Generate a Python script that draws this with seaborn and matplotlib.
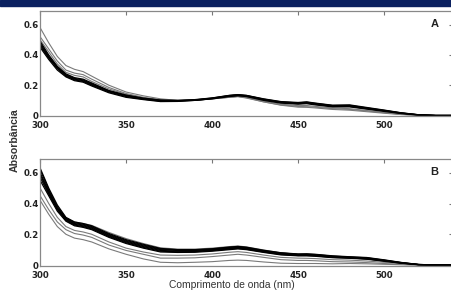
import matplotlib
matplotlib.use("Agg")
import matplotlib.pyplot as plt
import seaborn as sns

wl = [300, 305, 310, 315, 320, 325, 330, 340, 350, 360, 370, 380, 390, 400, 410,
      415, 420, 430, 440, 450, 455, 460, 470, 480, 490, 500, 510, 520, 530, 540]

# Panel A spectra
a_k1 = [0.45, 0.37, 0.30, 0.255, 0.23, 0.22, 0.195, 0.15, 0.12, 0.105, 0.092, 0.093, 0.10, 0.11, 0.125,
        0.13, 0.125, 0.10, 0.082, 0.075, 0.078, 0.07, 0.057, 0.057, 0.042, 0.027, 0.013, 0.003, 0.0, 0.0]
a_k2 = [0.46, 0.38, 0.31, 0.26, 0.235, 0.225, 0.20, 0.155, 0.125, 0.108, 0.095, 0.095, 0.10, 0.112, 0.128,
        0.133, 0.128, 0.103, 0.085, 0.078, 0.082, 0.074, 0.06, 0.06, 0.045, 0.03, 0.015, 0.004, 0.0, 0.0]
a_k3 = [0.47, 0.385, 0.315, 0.265, 0.24, 0.23, 0.205, 0.16, 0.13, 0.11, 0.097, 0.097, 0.102, 0.113, 0.13,
        0.135, 0.13, 0.105, 0.087, 0.08, 0.085, 0.077, 0.063, 0.064, 0.048, 0.032, 0.016, 0.004, 0.0, 0.0]
a_k4 = [0.48, 0.39, 0.32, 0.27, 0.245, 0.235, 0.21, 0.162, 0.132, 0.112, 0.1, 0.098, 0.103, 0.115, 0.132,
        0.137, 0.132, 0.108, 0.09, 0.083, 0.088, 0.08, 0.066, 0.067, 0.05, 0.034, 0.017, 0.005, 0.0, 0.0]
a_k5 = [0.49, 0.40, 0.325, 0.275, 0.25, 0.24, 0.215, 0.165, 0.135, 0.115, 0.102, 0.1, 0.105, 0.116, 0.133,
        0.138, 0.133, 0.11, 0.092, 0.086, 0.09, 0.082, 0.068, 0.07, 0.053, 0.036, 0.018, 0.005, 0.0, 0.0]
a_g1 = [0.58, 0.48, 0.39, 0.33, 0.305, 0.29, 0.26, 0.20, 0.155, 0.13, 0.11, 0.10, 0.10, 0.11, 0.12,
        0.125, 0.115, 0.09, 0.07, 0.06, 0.058, 0.055, 0.045, 0.04, 0.03, 0.018, 0.008, 0.002, 0.0, 0.0]
a_g2 = [0.52, 0.44, 0.36, 0.30, 0.28, 0.27, 0.24, 0.185, 0.145, 0.12, 0.105, 0.10, 0.10, 0.11, 0.12,
        0.125, 0.118, 0.09, 0.068, 0.055, 0.054, 0.05, 0.04, 0.035, 0.025, 0.015, 0.006, 0.001, 0.0, 0.0]
a_g3 = [0.50, 0.42, 0.34, 0.285, 0.265, 0.255, 0.225, 0.175, 0.14, 0.115, 0.10, 0.098, 0.10, 0.11, 0.122,
        0.127, 0.12, 0.095, 0.075, 0.065, 0.066, 0.06, 0.05, 0.045, 0.033, 0.02, 0.009, 0.002, 0.0, 0.0]

# Panel B spectra
b_k1 = [0.55, 0.45, 0.35, 0.285, 0.255, 0.245, 0.23, 0.18, 0.14, 0.11, 0.085, 0.082, 0.083, 0.09, 0.1,
        0.105, 0.1, 0.082, 0.066, 0.06, 0.06, 0.057, 0.048, 0.044, 0.038, 0.025, 0.012, 0.002, 0.0, 0.0]
b_k2 = [0.57, 0.46, 0.36, 0.29, 0.26, 0.25, 0.235, 0.185, 0.145, 0.115, 0.09, 0.086, 0.087, 0.094, 0.104,
        0.108, 0.103, 0.085, 0.069, 0.062, 0.062, 0.06, 0.05, 0.046, 0.04, 0.027, 0.013, 0.003, 0.0, 0.0]
b_k3 = [0.59, 0.47, 0.365, 0.295, 0.265, 0.255, 0.24, 0.19, 0.15, 0.12, 0.095, 0.09, 0.09, 0.097, 0.107,
        0.111, 0.106, 0.088, 0.072, 0.065, 0.065, 0.062, 0.053, 0.048, 0.042, 0.029, 0.014, 0.003, 0.0, 0.0]
b_k4 = [0.60, 0.48, 0.37, 0.30, 0.27, 0.26, 0.245, 0.195, 0.155, 0.125, 0.10, 0.095, 0.095, 0.1, 0.11,
        0.115, 0.11, 0.09, 0.075, 0.068, 0.068, 0.065, 0.055, 0.05, 0.045, 0.03, 0.015, 0.003, 0.0, 0.0]
b_k5 = [0.62, 0.49, 0.38, 0.305, 0.275, 0.265, 0.25, 0.2, 0.16, 0.13, 0.104, 0.098, 0.098, 0.104, 0.114,
        0.118, 0.113, 0.093, 0.078, 0.07, 0.071, 0.068, 0.058, 0.052, 0.047, 0.032, 0.016, 0.004, 0.0, 0.0]
b_k6 = [0.63, 0.50, 0.39, 0.31, 0.28, 0.27, 0.255, 0.205, 0.165, 0.135, 0.108, 0.1, 0.1, 0.106, 0.117,
        0.121, 0.116, 0.096, 0.08, 0.072, 0.073, 0.07, 0.06, 0.054, 0.049, 0.034, 0.017, 0.004, 0.0, 0.0]
b_g1 = [0.42, 0.33, 0.25, 0.20, 0.175, 0.165, 0.15, 0.105, 0.07, 0.04, 0.018, 0.015, 0.018, 0.022, 0.03,
        0.032, 0.03, 0.02, 0.012, 0.01, 0.01, 0.01, 0.008, 0.01, 0.008, 0.005, 0.002, 0.0, 0.0, 0.0]
b_g2 = [0.45, 0.36, 0.28, 0.23, 0.205, 0.195, 0.18, 0.13, 0.095, 0.07, 0.045, 0.045, 0.047, 0.055, 0.065,
        0.07, 0.065, 0.05, 0.035, 0.03, 0.03, 0.028, 0.022, 0.02, 0.016, 0.01, 0.004, 0.001, 0.0, 0.0]
b_g3 = [0.50, 0.40, 0.31, 0.25, 0.225, 0.215, 0.20, 0.15, 0.11, 0.085, 0.065, 0.063, 0.065, 0.072, 0.083,
        0.087, 0.082, 0.065, 0.05, 0.045, 0.044, 0.042, 0.035, 0.032, 0.026, 0.018, 0.008, 0.002, 0.0, 0.0]
b_g4 = [0.58, 0.47, 0.37, 0.305, 0.28, 0.27, 0.258, 0.212, 0.172, 0.14, 0.112, 0.104, 0.104, 0.11, 0.12,
        0.124, 0.118, 0.098, 0.08, 0.07, 0.07, 0.066, 0.055, 0.048, 0.04, 0.026, 0.012, 0.003, 0.0, 0.0]

panels = [
    ("A", [a_g1, a_g2, a_g3], [a_k1, a_k2, a_k3, a_k4, a_k5]),
    ("B", [b_g1, b_g2, b_g3, b_g4], [b_k1, b_k2, b_k3, b_k4, b_k5, b_k6]),
]

sns.set_style("white")
tick_font = ["Liberation Sans Narrow", "DejaVu Sans"]
label_font = ["Liberation Sans", "DejaVu Sans"]

fig = plt.figure(figsize=(4.51, 2.91), dpi=100)
# strip of the dark banner cut off at the top of the image
fig.patches.append(plt.Rectangle((0, 1 - 6 / 291), 1, 6 / 291, transform=fig.transFigure,
                                 color="#0b2160", zorder=0))

boxes = [[0.089, 0.600, 0.915, 0.362], [0.089, 0.086, 0.915, 0.368]]
for (tag, grays, blacks), box in zip(panels, boxes):
    ax = fig.add_axes(box)
    for c in grays:
        sns.lineplot(x=wl, y=c, color="#7a7a7a", lw=0.8, ax=ax)
    for c in blacks:
        sns.lineplot(x=wl, y=c, color="black", lw=0.9, ax=ax)
    ax.set_xlim(300, 540)
    ax.set_ylim(-0.006, 0.69)
    ax.set_xticks([300, 350, 400, 450, 500])
    ax.set_yticks([0, 0.2, 0.4, 0.6])
    ax.set_yticklabels(["0", "0.2", "0.4", "0.6"])
    ax.tick_params(direction="in", length=3, width=0.8, color="#777777", top=True, right=True,
                   labelsize=6.2, pad=1, labelcolor="#222222")
    ax.tick_params(axis="x", pad=3.5)
    for lab in ax.get_xticklabels() + ax.get_yticklabels():
        lab.set_fontfamily(tick_font)
        lab.set_fontweight("bold")
    for s in ax.spines.values():
        s.set_color("#888888")
        s.set_linewidth(0.9)
    ax.text(0.955, 0.88, tag, transform=ax.transAxes, fontsize=8, fontweight="bold",
            family=label_font, color="#222222", ha="center", va="center")
    ax.set_xlabel("")
    ax.set_ylabel("")

fig.text(232 / 451, 1 - 285 / 291, "Comprimento de onda (nm)", ha="center", va="center",
         fontsize=7.4, family=label_font, color="#333333")
fig.text(15 / 451, 1 - 140 / 291, "Absorbância", ha="center", va="center", rotation=90,
         fontsize=7.6, fontweight="bold", family=label_font, color="#333333")

fig.savefig("out.png", dpi=100)
